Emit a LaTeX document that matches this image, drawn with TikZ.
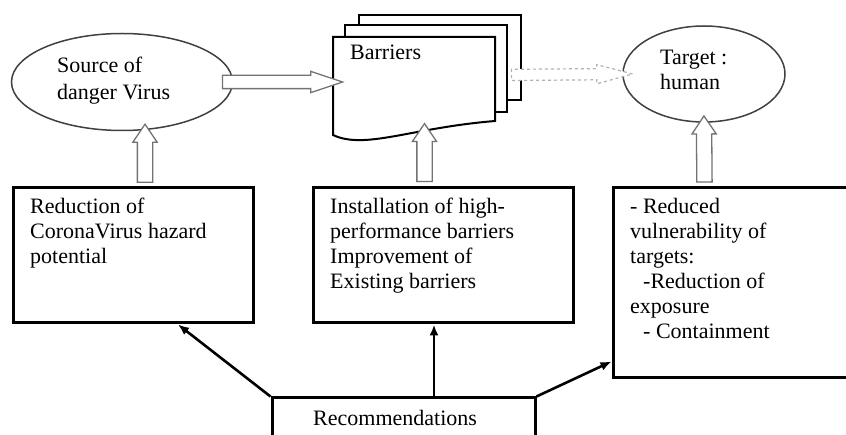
\documentclass[tikz,border=0pt]{standalone}
\usepackage{fontspec}
\setmainfont{Liberation Serif}
\usetikzlibrary{shapes.geometric,shapes.arrows,arrows.meta,calc}
\begin{document}
\begin{tikzpicture}[x=1pt,y=-1pt,
  txt/.style={anchor=north west, inner sep=0pt, align=left, font=\fontsize{22}{25}\selectfont},
  boxnode/.style={draw, line width=3pt, inner sep=0pt},
  oval/.style={draw=black!75, line width=1.5pt, ellipse, inner sep=0pt},
  page/.style={draw, fill=white, line width=2pt},
  hollow/.style={single arrow, draw=black!55, fill=white, line width=1.3pt, sloped, allow upside down, midway},
  recarrow/.style={draw, line width=2.6pt, -{Latex[length=11pt,width=9pt]}}
]
\useasboundingbox (0,0) rectangle (846,435);
\fill[white] (0,0) rectangle (846,435);

% ellipses
\node[oval, minimum width=221pt, minimum height=97pt] (src) at (122,82) {};
\node[txt] (srct) at (57,57) {Source of\\[2pt]danger Virus};
\node[oval, minimum width=162pt, minimum height=96pt] (tgt) at (704,74) {};
\node[txt] (tgtt) at (660,50) {Target :\\human};

% barriers (stacked documents)
\draw[page] (359,15) rectangle (521,100);
\draw[page] (345,25) rectangle (507,112);
\draw[page] (333,37) -- (495,37) -- (495,121) .. controls (410,128) and (365,150) .. (333,135) -- cycle;
\node[txt] (bart) at (350,45) {Barriers};
\coordinate (barW) at (333,82);
\coordinate (barS) at (424.5,130);
\coordinate (barE) at (501,75);

% boxes
\node[boxnode, minimum width=240pt, minimum height=135pt] (left) at (133,255.5) {};
\node[boxnode, minimum width=260pt, minimum height=135pt] (mid) at (443,255.5) {};
\node[boxnode, minimum width=237pt, minimum height=190pt] (right) at (731.5,283) {};
\node[boxnode, minimum width=263pt, minimum height=60pt] (rec) at (403.5,428) {};

\node[txt] (leftt) at (30,198) {Reduction of\\CoronaVirus hazard\\potential};
\node[txt] (midt) at (330,198) {Installation of high-\\performance barriers\\Improvement of\\Existing barriers};
\node[txt] (rightt) at (630,198) {- Reduced\\vulnerability of\\targets:\\\hspace{13pt}-Reduction of\\exposure\\\hspace{13pt}- Containment};
\node[txt] (rect) at (313,410) {Recommendations};

% hollow arrows
\path ($(src.east)+(-21,0)$) -- (barW)
  node[hollow, minimum height=120pt, inner sep=6pt, single arrow head extend=4pt, single arrow tip angle=37] (a1) {};
\path ($(left.north)+(12,0)$) -- ($(src.south)+(23,0)$)
  node[hollow, minimum height=58pt, inner sep=7pt, single arrow head extend=4.5pt, single arrow tip angle=68] (a2) {};
\path ($(mid.north)+(-18.5,0)$) -- (barS)
  node[hollow, minimum height=58pt, inner sep=7pt, single arrow head extend=4.5pt, single arrow tip angle=68] (a3) {};
\path ($(right.north)+(-27,0)$) -- (tgt.south)
  node[hollow, minimum height=66pt, inner sep=7pt, single arrow head extend=4.5pt, single arrow tip angle=68] (a4) {};
\path (barE) -- (tgt.west)
  node[hollow, draw=black!30, dashed, line width=1.2pt, minimum height=121pt, inner sep=5pt, single arrow head extend=4pt, single arrow tip angle=30] (a5) {};

% recommendation arrows
\draw[recarrow] (rec.north west) -- ($(left.south)+(45,0)$);
\draw[recarrow] ($(rec.north)+(30.5,0)$) -- ($(mid.south)+(-9,0)$);
\draw[recarrow] (rec.north east) -- ($(right.south west)+(0,-18)$);
\end{tikzpicture}
\end{document}
